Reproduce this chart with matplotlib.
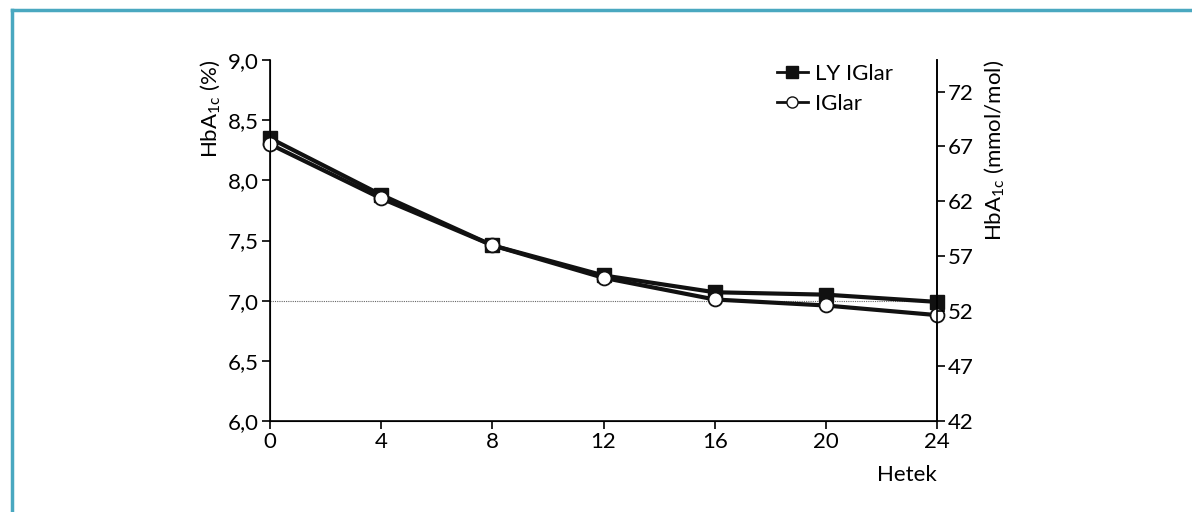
import numpy as np
import matplotlib
matplotlib.use('Agg')
import matplotlib.pyplot as plt
from matplotlib.lines import Line2D

plt.rcParams['font.family'] = ['Lato', 'DejaVu Sans']
plt.rcParams['mathtext.default'] = 'regular'

weeks = [0, 4, 8, 12, 16, 20, 24]
ly_iglar = [8.35, 7.88, 7.46, 7.21, 7.07, 7.05, 6.99]
ly_err = [0.04, 0.03, 0.03, 0.03, 0.03, 0.03, 0.03]
iglar = [8.30, 7.85, 7.46, 7.19, 7.01, 6.96, 6.88]
iglar_err = [0.04, 0.03, 0.03, 0.03, 0.03, 0.03, 0.03]
yticks = [6.0, 6.5, 7.0, 7.5, 8.0, 8.5, 9.0]
ytick_labels = ['6,0', '6,5', '7,0', '7,5', '8,0', '8,5', '9,0']
mmol_ticks = [42, 47, 52, 57, 62, 67, 72]

fig = plt.figure(figsize=(11.92, 5.12), dpi=100)
ax = fig.add_axes([0.2265, 0.1777, 0.5596, 0.7051])

# frame around figure (top and left visible)
fig.add_artist(Line2D([11.5/1192, 11.5/1192], [0, 1 - 9.5/512], color='#4aa8c0', lw=2.5))
fig.add_artist(Line2D([11.5/1192, 1], [1 - 9.5/512, 1 - 9.5/512], color='#4aa8c0', lw=2.5))

ax.plot([0, 24], [7.0, 7.0], ls=(0, (1, 1)), color='#666666', lw=0.8, zorder=1)

ax.errorbar(weeks, ly_iglar, yerr=ly_err, color='#111111', lw=3, marker='s', ms=10,
            mfc='#111111', mec='#111111', capsize=3, elinewidth=1.2, capthick=1.2,
            zorder=3, clip_on=False)
ax.errorbar(weeks, iglar, yerr=iglar_err, color='#111111', lw=3, marker='o', ms=10,
            mfc='white', mec='#111111', mew=1.3, capsize=3, elinewidth=1.2, capthick=1.2,
            zorder=4, clip_on=False)

ax.set_xlim(0, 24)
ax.set_ylim(6.0, 9.0)
ax.set_xticks(weeks)
ax.set_yticks(yticks)
ax.set_yticklabels(ytick_labels)
ax.spines['top'].set_visible(False)
for s in ['left', 'bottom', 'right']:
    ax.spines[s].set_linewidth(1.2)
ax.tick_params(direction='out', length=6, width=1.2, labelsize=16, pad=2)
ax.set_ylabel('HbA$_{1c}$ (%)', fontsize=16, loc='top', labelpad=4)

ax2 = ax.twinx()
ax2.set_ylim(10.93 * 6.0 - 23.5, 10.93 * 9.0 - 23.5)
ax2.set_yticks(mmol_ticks)
ax2.spines['top'].set_visible(False)
ax2.spines['right'].set_linewidth(1.2)
ax2.tick_params(direction='out', length=6, width=1.2, labelsize=16, pad=2)
ax2.set_ylabel('HbA$_{1c}$ (mmol/mol)', fontsize=16, loc='top', labelpad=6)

ax.text(24, 5.55, 'Hetek', ha='right', va='center', fontsize=16)

handles = [
    Line2D([], [], color='#111111', lw=2, marker='s', ms=8, mfc='#111111'),
    Line2D([], [], color='#111111', lw=2, marker='o', ms=8, mfc='white', mec='#111111'),
]
ax.legend(handles, ['LY IGlar', 'IGlar'], loc='upper left', bbox_to_anchor=(0.73, 1.045),
          frameon=False, fontsize=16, handlelength=1.4, handletextpad=0.3, labelspacing=0.45)

fig.savefig('out.png', dpi=100)
